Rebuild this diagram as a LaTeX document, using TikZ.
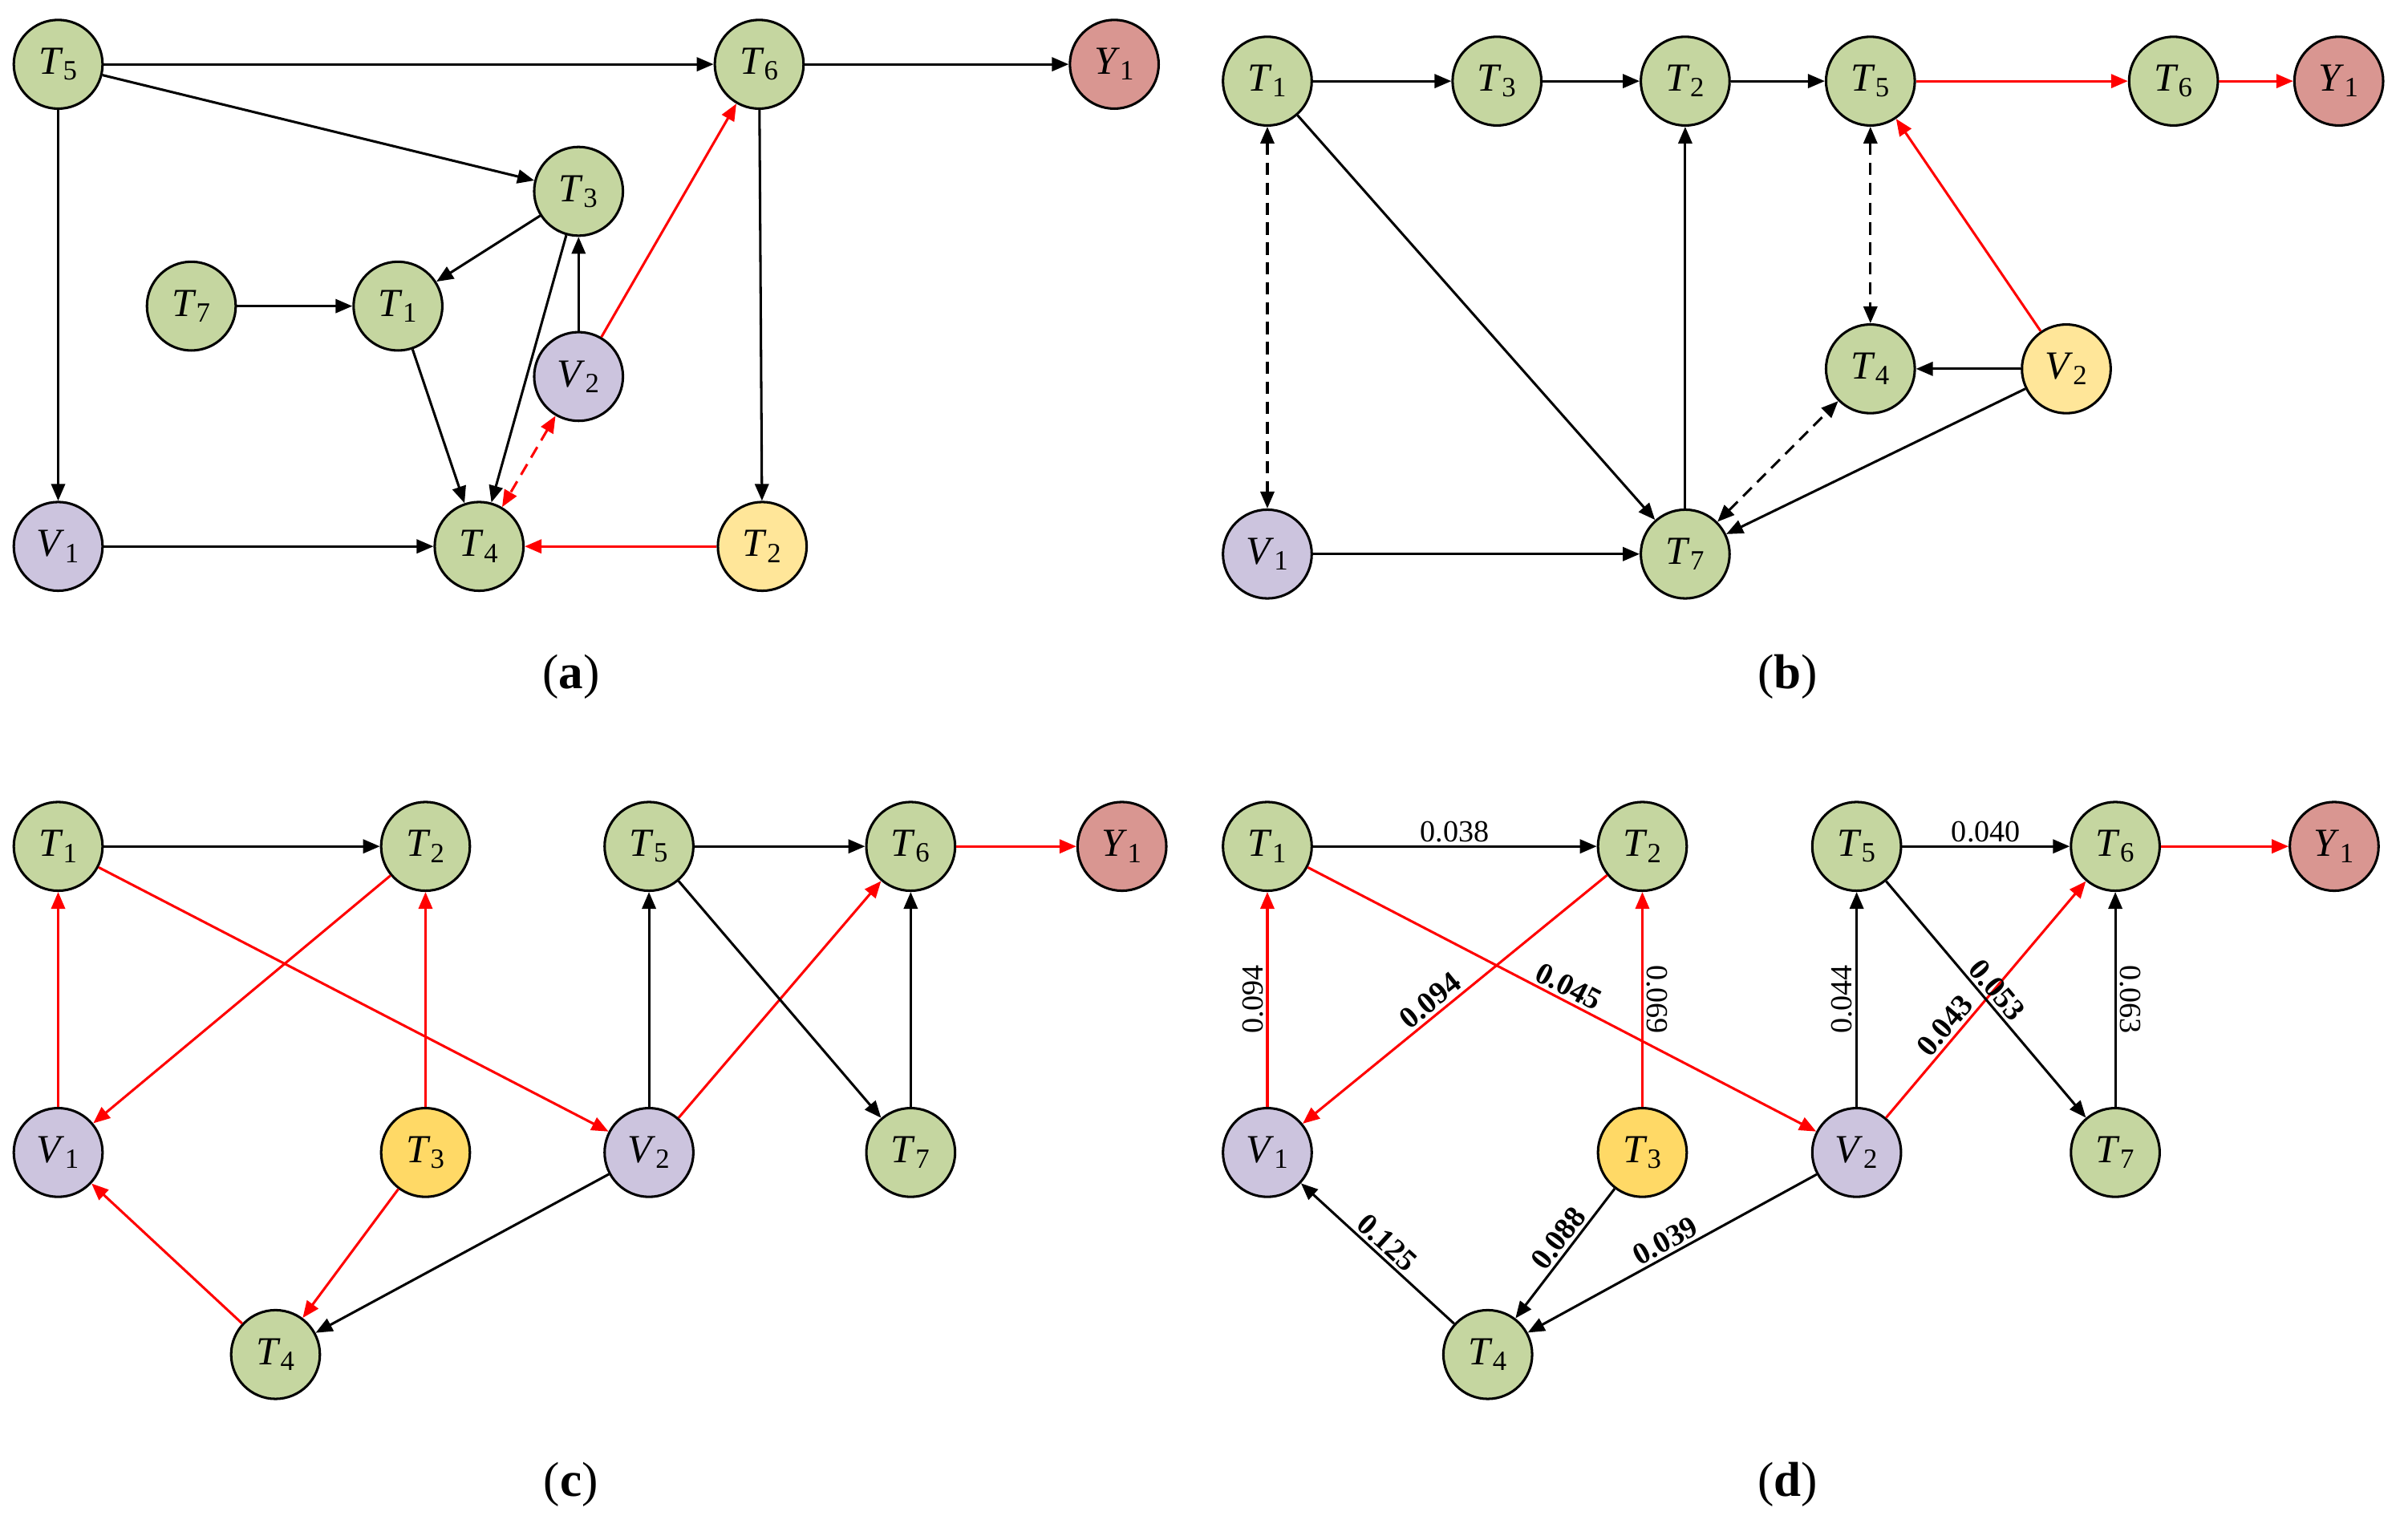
\documentclass[tikz,border=0pt]{standalone}
\usepackage{fontspec}
\setmainfont{Liberation Serif}
\usetikzlibrary{arrows.meta}
\definecolor{gn}{RGB}{197,214,160}
\definecolor{pu}{RGB}{204,196,222}
\definecolor{rd}{RGB}{217,150,145}
\definecolor{ly}{RGB}{255,230,153}
\definecolor{dy}{RGB}{255,217,102}
\newcommand{\lb}[2]{\textit{#1}\textsubscript{#2}}
\begin{document}
\begin{tikzpicture}[x=1pt,y=-1pt,
 nd/.style={circle,draw=black,line width=1.6pt,minimum size=58pt,inner sep=0pt,font=\fontsize{26}{28}\selectfont},
 ng/.style={nd,fill=gn}, np/.style={nd,fill=pu}, nr/.style={nd,fill=rd}, nyl/.style={nd,fill=ly}, nyy/.style={nd,fill=dy},
 e/.style={line width=1.6pt,-{Triangle[length=11pt,width=9pt]}},
 er/.style={e,red},
 dd/.style={e,dashed,dash pattern=on 8pt off 5pt,{Triangle[length=11pt,width=9pt]}-{Triangle[length=11pt,width=9pt]}},
 capt/.style={font=\fontsize{32}{34}\selectfont},
 w/.style={font=\fontsize{20}{22}\selectfont,inner sep=2pt,text=black},
 wb/.style={w,sloped,above,font=\fontsize{20}{22}\selectfont\bfseries}]
\useasboundingbox (0,0) rectangle (1568,1006);
% (a)
\node[ng] (a5) at (38,42) {\lb{T}{5}};
\node[ng] (a6) at (496,42) {\lb{T}{6}};
\node[nr] (ay) at (728,42) {\lb{Y}{1}};
\node[ng] (a3) at (378,125) {\lb{T}{3}};
\node[ng] (a7) at (125,200) {\lb{T}{7}};
\node[ng] (a1) at (260,200) {\lb{T}{1}};
\node[np] (av2) at (378,246) {\lb{V}{2}};
\node[np] (av1) at (38,357) {\lb{V}{1}};
\node[ng] (a4) at (313,357) {\lb{T}{4}};
\node[nyl] (a2) at (498,357) {\lb{T}{2}};
\node[capt] (ca) at (373,442) {(\textbf{a})};
\draw[e] (a5) -- (a6); \draw[e] (a6) -- (ay); \draw[e] (a5) -- (a3);
\draw[e] (a5) -- (av1); \draw[e] (a3) -- (a1); \draw[e] (a7) -- (a1);
\draw[e] (a1) -- (a4); \draw[e] (a3) -- (a4); \draw[e] (av2) -- (a3);
\draw[er] (av2) -- (a6); \draw[dd,red] (av2) -- (a4); \draw[e] (a6) -- (a2);
\draw[e] (av1) -- (a4); \draw[er] (a2) -- (a4);
% (b)
\node[ng] (b1) at (828,53) {\lb{T}{1}};
\node[ng] (b3) at (978,53) {\lb{T}{3}};
\node[ng] (b2) at (1101,53) {\lb{T}{2}};
\node[ng] (b5) at (1222,53) {\lb{T}{5}};
\node[ng] (b6) at (1420,53) {\lb{T}{6}};
\node[nr] (by) at (1528,53) {\lb{Y}{1}};
\node[ng] (b4) at (1222,241) {\lb{T}{4}};
\node[nyl] (bv2) at (1350,241) {\lb{V}{2}};
\node[np] (bv1) at (828,362) {\lb{V}{1}};
\node[ng] (b7) at (1101,362) {\lb{T}{7}};
\node[capt] (cb) at (1168,442) {(\textbf{b})};
\draw[e] (b1) -- (b3); \draw[e] (b3) -- (b2); \draw[e] (b2) -- (b5);
\draw[er] (b5) -- (b6); \draw[er] (b6) -- (by);
\draw[dd] (b1) -- (bv1); \draw[e] (b1) -- (b7); \draw[e] (b7) -- (b2);
\draw[dd] (b5) -- (b4); \draw[dd] (b7) -- (b4);
\draw[e] (bv2) -- (b4); \draw[e] (bv2) -- (b7); \draw[er] (bv2) -- (b5);
\draw[e] (bv1) -- (b7);
% (c)
\node[ng] (c1) at (38,553) {\lb{T}{1}};
\node[ng] (c2) at (278,553) {\lb{T}{2}};
\node[ng] (c5) at (424,553) {\lb{T}{5}};
\node[ng] (c6) at (595,553) {\lb{T}{6}};
\node[nr] (cy) at (733,553) {\lb{Y}{1}};
\node[np] (cv1) at (38,753) {\lb{V}{1}};
\node[nyy] (c3) at (278,753) {\lb{T}{3}};
\node[np] (cv2) at (424,753) {\lb{V}{2}};
\node[ng] (c7) at (595,753) {\lb{T}{7}};
\node[ng] (c4) at (180,885) {\lb{T}{4}};
\node[capt] (cc) at (373,970) {(\textbf{c})};
\draw[e] (c1) -- (c2); \draw[er] (c1) -- (cv2); \draw[er] (c2) -- (cv1);
\draw[er] (cv1) -- (c1); \draw[er] (c3) -- (c2); \draw[er] (c3) -- (c4);
\draw[er] (c4) -- (cv1); \draw[e] (cv2) -- (c4); \draw[e] (cv2) -- (c5);
\draw[er] (cv2) -- (c6); \draw[e] (c5) -- (c6); \draw[er] (c6) -- (cy);
\draw[e] (c5) -- (c7); \draw[e] (c7) -- (c6);
% (d)
\node[ng] (d1) at (828,553) {\lb{T}{1}};
\node[ng] (d2) at (1073,553) {\lb{T}{2}};
\node[ng] (d5) at (1213,553) {\lb{T}{5}};
\node[ng] (d6) at (1382,553) {\lb{T}{6}};
\node[nr] (dy) at (1525,553) {\lb{Y}{1}};
\node[np] (dv1) at (828,753) {\lb{V}{1}};
\node[nyy] (d3) at (1073,753) {\lb{T}{3}};
\node[np] (dv2) at (1213,753) {\lb{V}{2}};
\node[ng] (d7) at (1382,753) {\lb{T}{7}};
\node[ng] (d4) at (972,885) {\lb{T}{4}};
\node[capt] (cd) at (1168,970) {(\textbf{d})};
\draw[e] (d1) -- node[w,above] {0.038} (d2);
\draw[er] (d1) -- node[wb,pos=0.5] {0.045} (dv2);
\draw[er] (d2) -- node[wb,pos=0.55] {0.094} (dv1);
\draw[er] (dv1) -- node[w,sloped,above] {0.094} (d1);
\draw[er] (d3) -- node[w,rotate=-90,anchor=south] {0.069} (d2);
\draw[e] (d3) -- node[wb,pos=0.45] {0.088} (d4);
\draw[e] (d4) -- node[wb] {0.125} (dv1);
\draw[e] (dv2) -- node[wb] {0.039} (d4);
\draw[e] (dv2) -- node[w,sloped,above] {0.044} (d5);
\draw[er] (dv2) -- node[wb,pos=0.35] {0.043} (d6);
\draw[e] (d5) -- node[w,above] {0.040} (d6);
\draw[er] (d6) -- (dy);
\draw[e] (d5) -- node[wb,pos=0.5,above] {0.053} (d7);
\draw[e] (d7) -- node[w,rotate=-90,anchor=south] {0.063} (d6);
\end{tikzpicture}
\end{document}
